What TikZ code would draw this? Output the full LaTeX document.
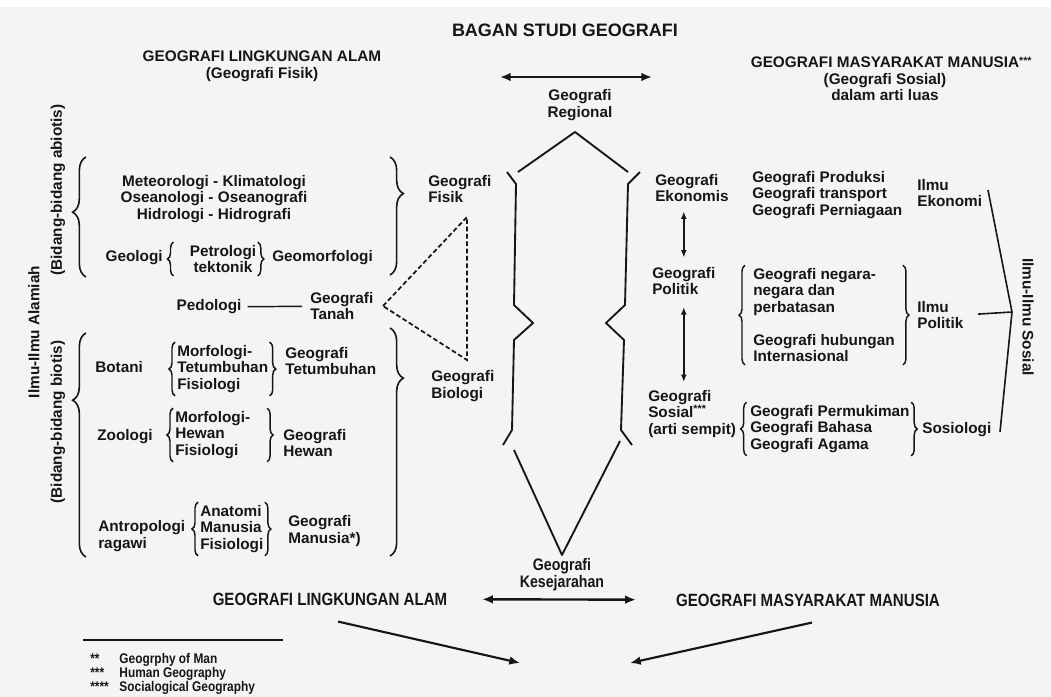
\documentclass[tikz,border=0pt]{standalone}
\usepackage{fontspec}
\setmainfont{Liberation Sans}
\newfontfamily\condfont[FakeStretch=0.85]{Liberation Sans}
\usetikzlibrary{arrows.meta,positioning,decorations.pathreplacing}
\definecolor{paper}{HTML}{F4F4F2}
\definecolor{ink}{HTML}{161616}
\tikzset{
  txt/.style={inner sep=0pt,align=left,text=ink,font=\fontsize{11.5}{12.5}\selectfont\bfseries},
  ctxt/.style={txt,align=center},
  head/.style={ctxt},
  lowhead/.style={ctxt,font=\condfont\fontsize{13.3}{14}\selectfont\bfseries},
  note/.style={inner sep=0pt,align=left,text=ink,font=\condfont\fontsize{10.5}{10}\selectfont\bfseries},
  side/.style={txt,rotate=90},
  bigbrace/.style={draw=ink,line width=1.2pt,decorate,decoration={brace,amplitude=10pt,aspect=#1}},
  bigbrace/.default=0.5,
  smbrace/.style={draw=ink,line width=1.1pt,decorate,decoration={brace,amplitude=4.5pt}},
  wall/.style={draw=ink,line width=1.4pt,line join=round},
  dbl/.style={{Latex[length=8pt,width=6.5pt]}-{Latex[length=8pt,width=6.5pt]},ink,line width=1.8pt},
  vdbl/.style={{Latex[length=5.5pt,width=4.5pt]}-{Latex[length=5.5pt,width=4.5pt]},ink,line width=1.1pt},
  flow/.style={-{Latex[length=8pt,width=6.5pt]},ink,line width=1.6pt},
  tri/.style={draw=ink,line width=1.3pt,dash pattern=on 3.5pt off 2pt},
}

\begin{document}
\begin{tikzpicture}[x=0.75pt,y=-0.75pt]
\fill[white] (0,0) rectangle (1051,697);
\fill[paper] (0,7) rectangle (1051,697);
\useasboundingbox (0,0) rectangle (1051,697);

% --- headings ---
\node[head,font=\fontsize{13.5}{15}\selectfont\bfseries] (title) at (565,30) {BAGAN STUDI GEOGRAFI};
\node[head] (hAlam) at (262,66) {GEOGRAFI LINGKUNGAN ALAM\\(Geografi Fisik)};
\node[head] (hMasy) at (885,79) {GEOGRAFI MASYARAKAT MANUSIA\rlap{\raisebox{2pt}{\fontsize{8}{8}\selectfont ***}}\\(Geografi Sosial)\\dalam arti luas};
\coordinate (topL) at (500,77);
\coordinate (topR) at (652,77);
\draw[dbl] (topL) -- (topR);

% --- the regional column ---
\node[ctxt] (regional) at (580,105) {Geografi\\Regional};
\draw[wall] (518,172) -- (575,132) -- (628,172);
\draw[wall] (507,172) -- (516,184) -- (514,305) -- (533,323) -- (514,340) -- (512,430) -- (503,445);
\draw[wall] (640,172) -- (628,184) -- (625,305) -- (606,323) -- (624,340) -- (621,430) -- (632,445);
\draw[wall] (514,450) -- (562,555) -- (620,441);
\node[ctxt,font=\condfont\fontsize{12.5}{13}\selectfont\bfseries] (kesej) at (562,575) {Geografi\\Kesejarahan};

% --- natural sciences ---
\node[side] (alamiah) at (34,332) {Ilmu-Ilmu Alamiah};
\node[side] (abiotis) at (58,190) {(Bidang-bidang abiotis)};
\node[side] (biotis)  at (58,422) {(Bidang-bidang biotis)};
\draw[bigbrace=0.54] (86,277) -- (86,157);
\draw[bigbrace=0.70] (86,557) -- (86,333);
\draw[bigbrace=0.31] (390,157) -- (390,275);
\draw[bigbrace=0.22] (390,328) -- (390,556);

\node[ctxt] (met) at (214,199) {Meteorologi - Klimatologi\\Oseanologi - Oseanografi\\Hidrologi - Hidrografi};
\node[txt,anchor=east] (geol) at (163,258) {Geologi};
\node[ctxt] (petr) at (223,259) {Petrologi\\tektonik};
\node[txt,anchor=west] (geom) at (272,258) {Geomorfologi};

\node[txt] (ped) at (209,307) {Pedologi};
\node[txt,anchor=west] (tanah) at (310,306) {Geografi\\Tanah};
\draw[ink,line width=1.1pt,shorten <=4.5pt,shorten >=6pt] (ped) -- (tanah);

\node[txt,anchor=west] (bot)  at (95,367)  {Botani};
\node[txt,anchor=west] (botl) at (177,369) {Morfologi-\\Tetumbuhan\\Fisiologi};
\node[txt,anchor=west] (gtet) at (285,361) {Geografi\\Tetumbuhan};
\node[txt,anchor=west] (zoo)  at (97,437)  {Zoologi};
\node[txt,anchor=west] (zool) at (175,435) {Morfologi-\\Hewan\\Fisiologi};
\node[txt,anchor=west] (ghew) at (283,443) {Geografi\\Hewan};
\node[txt,anchor=west] (ant)  at (98,536)  {Antropologi\\ragawi};
\node[txt,anchor=west] (antl) at (200,529) {Anatomi\\Manusia\\Fisiologi};
\node[txt,anchor=west] (gman) at (288,531) {Geografi\\Manusia*)};

\foreach \n/\l/\r in {petr/-12pt/1pt, botl/-1.5pt/1pt, zool/-1.5pt/12.5pt, antl/-1.5pt/1pt} {
  \draw[smbrace] ([xshift=\l,yshift=-2pt]\n.south west) -- ([xshift=\l,yshift=2pt]\n.north west);
  \draw[smbrace] ([xshift=\r,yshift=2pt]\n.north east) -- ([xshift=\r,yshift=-2pt]\n.south east);
}

\node[txt,anchor=west] (fisik)   at (428,189) {Geografi\\Fisik};
\node[txt,anchor=west] (biologi) at (431,386) {Geografi\\Biologi};
\coordinate (tL) at (383,306);
\coordinate (tT) at (467,217);
\coordinate (tB) at (467,360);
\draw[tri] (tL) -- (tT) -- (tB) -- cycle;

% --- social sciences ---
\node[txt,anchor=west] (eko)  at (655,188) {Geografi\\Ekonomis};
\node[txt,anchor=west] (prod) at (752,195) {Geografi Produksi\\Geografi transport\\Geografi Perniagaan};
\node[txt,anchor=west] (iEko) at (917,193) {Ilmu\\Ekonomi};
\node[txt,anchor=west] (pol)  at (652,281) {Geografi\\Politik};
\node[txt,anchor=west] (neg)  at (753,292) {Geografi negara-\\negara dan\\perbatasan};
\node[txt,anchor=west] (hub)  at (753,348) {Geografi hubungan\\Internasional};
\node[txt,anchor=west] (iPol) at (917,315) {Ilmu\\Politik};
\node[txt,anchor=west] (sos)  at (648,414) {Geografi\\Sosial\textsuperscript{***}\\(arti sempit)};
\node[txt,anchor=west] (sosl) at (750,429) {Geografi Permukiman\\Geografi Bahasa\\Geografi Agama};
\node[txt,anchor=west] (iSos) at (922,430) {Sosiologi};
\node[txt,rotate=-90] (sosial) at (1028,317) {Ilmu-Ilmu Sosial};

\draw[vdbl,shorten <=7pt,shorten >=7pt] (eko.south -| pol.north) -- (pol.north);
\draw[vdbl,shorten <=9pt,shorten >=6pt] (pol.south) -- (sos.north -| pol.south);

\draw[smbrace] ([xshift=-6pt,yshift=-2pt]hub.south west) -- ([xshift=-6pt,yshift=2pt]neg.north west);
\draw[smbrace] ([xshift=6pt,yshift=2pt]hub.east |- neg.north) -- ([xshift=6pt,yshift=-2pt]hub.south east);
\draw[smbrace] ([xshift=-2.5pt,yshift=-2pt]sosl.south west) -- ([xshift=-2.5pt,yshift=2pt]sosl.north west);
\draw[smbrace] ([xshift=1pt,yshift=2pt]sosl.north east) -- ([xshift=1pt,yshift=-2pt]sosl.south east);

\coordinate (skTop) at (988,190);
\coordinate (skMid) at (1012,312);
\coordinate (skBot) at (1000,432);
\draw[wall,line width=1.2pt] (skTop) -- (skMid) -- (skBot);
\draw[wall,line width=1.2pt,shorten <=11pt] (iPol.east) -- (skMid);

% --- bottom: both halves meet ---
\node[lowhead] (bAlam) at (330,599) {GEOGRAFI LINGKUNGAN ALAM};
\node[lowhead] (bMasy) at (808,600) {GEOGRAFI MASYARAKAT MANUSIA};
\draw[dbl,shorten <=26pt,shorten >=30pt] (bAlam) -- (bMasy);
\coordinate (sinkL) at (520,663);
\coordinate (sinkR) at (630,663);
\draw[flow] ([xshift=6pt,yshift=-12pt]bAlam.south) -- (sinkL);
\draw[flow] ([xshift=3pt,yshift=-12pt]bMasy.south) -- (sinkR);

% --- legend ---
\draw[ink,line width=2pt] (83,640) -- (283,640);
\node[note,anchor=north west] (legend) at (90,653)
  {\begin{tabular}{@{}l@{\hspace{8pt}}l@{}}
   {**} & Geogrphy of Man\\
   {***} & Human Geography\\
   {****} & Socialogical Geography
   \end{tabular}};

\end{tikzpicture}
\end{document}
